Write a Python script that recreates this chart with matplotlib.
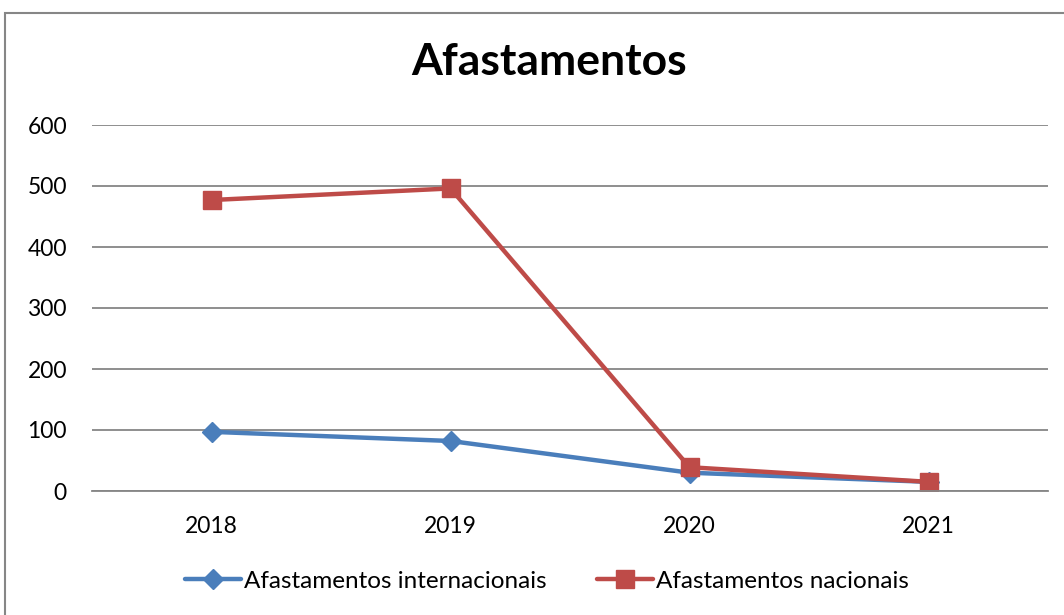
import matplotlib
matplotlib.use("Agg")
import matplotlib.pyplot as plt
from matplotlib.patches import Rectangle

years = ["2018", "2019", "2020", "2021"]
internacionais = [97, 82, 30, 15]
nacionais = [477, 496, 39, 15]

BLUE = "#4A7EBB"
RED = "#BE4B48"
GRID = "#868686"
FONT = ["Lato", "DejaVu Sans"]

plt.rcParams["font.family"] = FONT

fig = plt.figure(figsize=(10.64, 6.15), dpi=100)
ax = fig.add_axes([92 / 1064, 1 - 491 / 615, (1048 - 92) / 1064, (491 - 125) / 615])

x = list(range(len(years)))
ax.plot(x, internacionais, color=BLUE, lw=3.2, marker="D", ms=10,
        label="Afastamentos internacionais", solid_capstyle="round")
ax.plot(x, nacionais, color=RED, lw=3.2, marker="s", ms=13,
        label="Afastamentos nacionais", solid_capstyle="round")

ax.set_xlim(-0.5, 3.5)
ax.set_ylim(0, 600)
ax.set_yticks(range(0, 601, 100))
ax.set_xticks(x)
ax.set_xticklabels(years)
ax.yaxis.grid(True, color=GRID, lw=1.3)
ax.set_axisbelow(True)
for s in ["left", "right", "top"]:
    ax.spines[s].set_visible(False)
ax.spines["bottom"].set_color(GRID)
ax.spines["bottom"].set_linewidth(1.3)
ax.tick_params(axis="y", length=0, pad=18, labelsize=16.5)
ax.tick_params(axis="x", length=0, pad=18, labelsize=16.5)

fig.text(549 / 1064, 1 - 62 / 615, "Afastamentos", ha="center", va="center",
         fontsize=32, fontweight="bold")

fig.legend(loc="center", bbox_to_anchor=(547 / 1064, 1 - 581 / 615), ncol=2,
           frameon=False, fontsize=17.5, handlelength=2.3, handletextpad=0.1,
           columnspacing=2.1)

fig.patches.append(Rectangle((5 / 1064, -0.05), 1.1, 1 - 13 / 615 + 0.05,
                             transform=fig.transFigure, fill=False,
                             edgecolor=GRID, lw=1.5))

fig.savefig("out.png", dpi=100)
